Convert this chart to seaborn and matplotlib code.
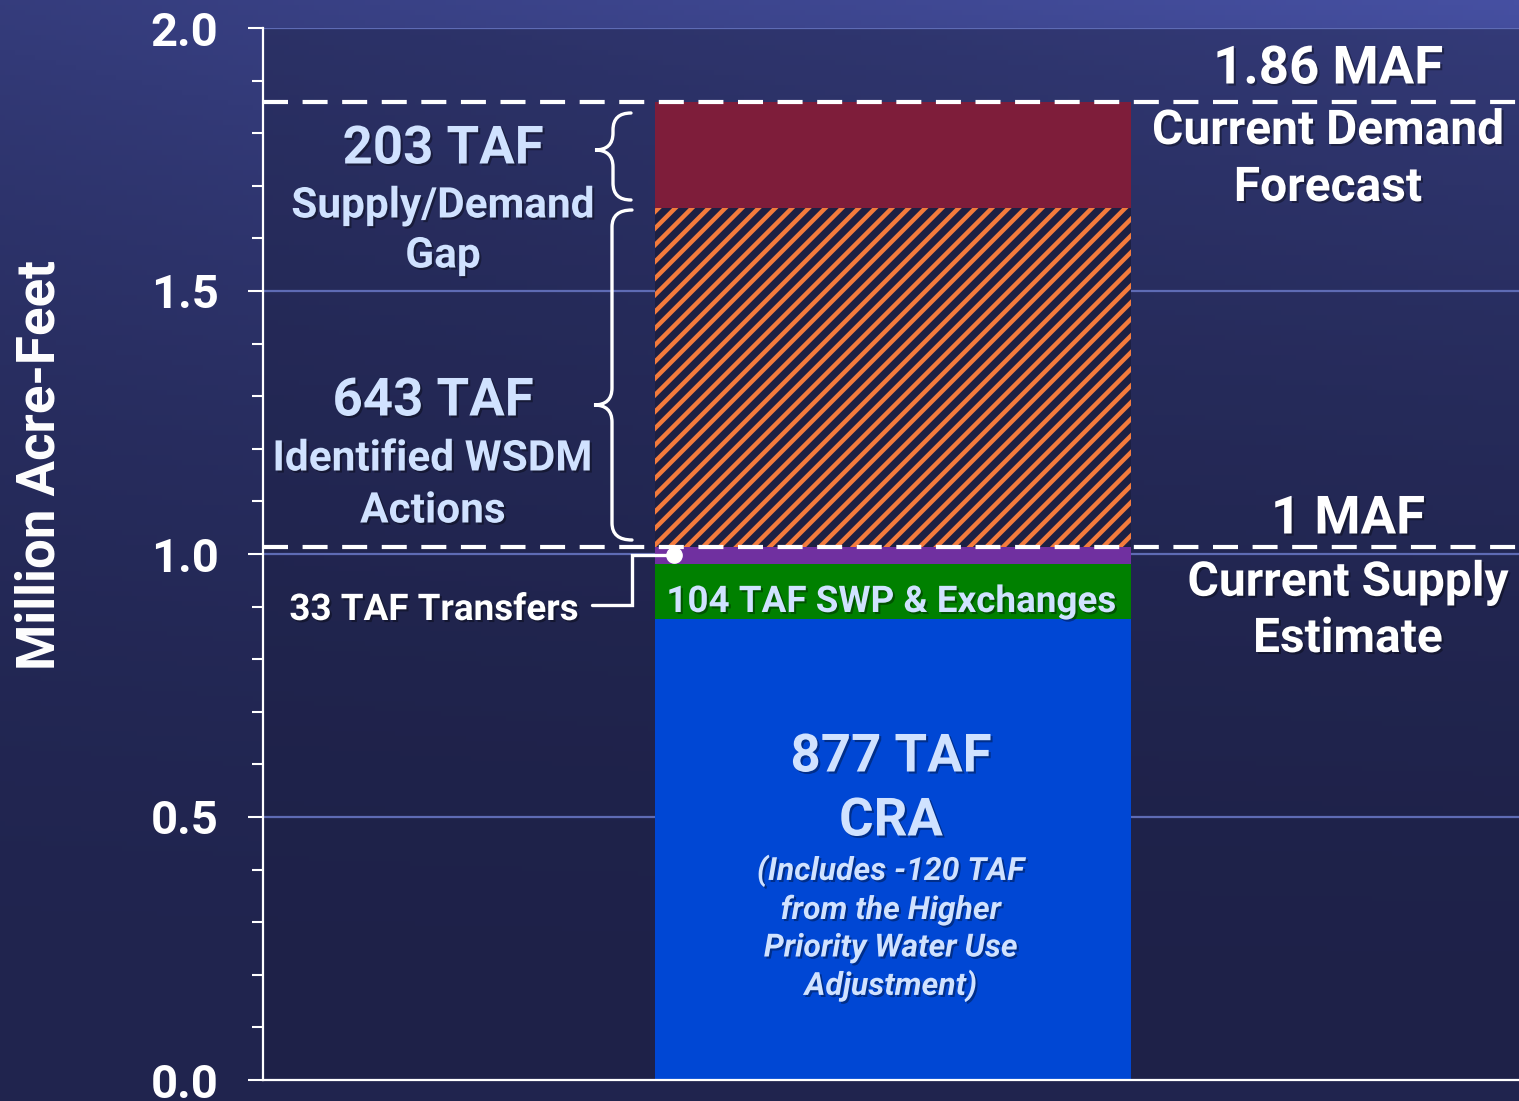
import numpy as np
import pandas as pd
import matplotlib
matplotlib.use("Agg")
import matplotlib.pyplot as plt
import seaborn as sns
from matplotlib.path import Path
from matplotlib.patches import PathPatch
import matplotlib.transforms as mtransforms
import matplotlib.patheffects as pe
from matplotlib.colors import to_rgb

# ---------------- data ----------------
segments = ["CRA", "SWP & Exchanges", "Transfers", "Identified WSDM Actions", "Supply/Demand Gap"]
values_taf = [877, 104, 33, 643, 203]
seg_colors = ["#0047d4", "#008000", "#7030a0", "#1d2043", "#7e1d3a"]
seg_hatch = [None, None, None, "//", None]
demand_maf = 1.86
supply_maf = 1.014
y_ticks = [0.0, 0.5, 1.0, 1.5, 2.0]
y_tick_labels = ["0.0", "0.5", "1.0", "1.5", "2.0"]
category = "Supply"

cum = np.cumsum(values_taf) / 1000.0
bottoms = np.concatenate([[0], cum[:-1]])

# ---------------- style ----------------
sns.set_style("ticks")
plt.rcParams["font.family"] = ["Roboto", "DejaVu Sans"]
plt.rcParams["hatch.linewidth"] = 3.2
plt.rcParams["hatch.color"] = "#f47b3c"

W, H = 1519, 1101
fig = plt.figure(figsize=(W / 100, H / 100), dpi=100)

# background gradient
bg = fig.add_axes([0, 0, 1, 1], zorder=-5)
ny, nx = 220, 300
yy, xx = np.mgrid[0:1:ny * 1j, 0:1:nx * 1j]  # yy: 0 top .. 1 bottom
top = 1 - yy
t = np.clip(top ** 2.2 * (0.55 + 0.45 * xx), 0, 1)
dark = np.array(to_rgb("#20244e"))
light = np.array(to_rgb("#4650a2"))
img = dark[None, None, :] * (1 - t[..., None]) + light[None, None, :] * t[..., None]
bg.imshow(img, aspect="auto", extent=[0, 1, 0, 1], origin="upper")
bg.set_axis_off()

# main axes
px_left, px_right, px_top, px_bot = 263, 1519, 28, 1080
ax = fig.add_axes([px_left / W, (H - px_bot) / H, (px_right - px_left) / W, (px_bot - px_top) / H])
ax.patch.set_facecolor("#1b1e40")
ax.patch.set_alpha(0.4)

# stacked bar drawn as overlapping cumulative bars (top-down)
for i in range(len(values_taf) - 1, -1, -1):
    df = pd.DataFrame({"cat": [category], "val": [cum[i]]})
    kw = dict(linewidth=0)
    if seg_hatch[i]:
        kw.update(hatch=seg_hatch[i], edgecolor="#f47b3c")
    sns.barplot(data=df, x="cat", y="val", color=seg_colors[i], saturation=1,
                width=0.8, errorbar=None, ax=ax, zorder=2, **kw)

ax.set_xlim(-1.0588, 1.0520)
ax.set_ylim(0, 2.0)
ax.set_xlabel("")
ax.set_ylabel("")
ax.set_xticks([])

# grid
ax.set_axisbelow(True)
for yv in y_ticks[1:]:
    ax.axhline(yv, color="#5e6bb4", lw=1.6, zorder=1)

# spines / ticks
for s in ["top", "right"]:
    ax.spines[s].set_visible(False)
ax.spines["left"].set_color("white")
ax.spines["left"].set_linewidth(1.6)
ax.spines["bottom"].set_color("white")
ax.spines["bottom"].set_linewidth(1.6)
ax.spines["bottom"].set_zorder(5)
ax.set_yticks(y_ticks)
ax.set_yticklabels(y_tick_labels, fontweight="bold")
ax.set_yticks(np.arange(0, 2.01, 0.1), minor=True)
ax.tick_params(axis="y", which="major", length=11, width=1.5, color="white",
               labelsize=34, labelcolor="white", pad=21)
ax.tick_params(axis="y", which="minor", length=8, width=1.5, color="white")
ax.tick_params(axis="x", which="both", length=0)

# y label
fig.text(40 / W, (H - 465) / H, "Million Acre-Feet", rotation=90, ha="center", va="center",
         fontsize=38, fontweight="bold", color="white")

# dashed reference lines
for yv in [demand_maf, supply_maf]:
    ax.axhline(yv, color="white", lw=3, dashes=(6, 3.5), zorder=6)

trans = mtransforms.blended_transform_factory(ax.transAxes, ax.transData)
shadow = [pe.SimplePatchShadow(offset=(1.5, -1.5), shadow_rgbFace="black", alpha=0.35), pe.Normal()]

def fx(px):
    return (px - px_left) / (px_right - px_left)

def py(p):
    return (px_bot - p) / (px_bot - px_top) * 2.0

LB = "#d0e2ff"

def txt(xp, yp, s, size, color=LB, ha="center", style="normal"):
    ax.text(fx(xp), py(yp), s, transform=trans, ha=ha, va="center", fontsize=size,
            fontweight="bold", color=color, style=style, zorder=8, path_effects=shadow)

# left annotations
txt(443, 149, "203 TAF", 38)
txt(443, 206, "Supply/Demand", 30.5)
txt(443, 256, "Gap", 30.5)
txt(433, 401, "643 TAF", 38)
txt(433, 459, "Identified WSDM", 30.5)
txt(433, 511, "Actions", 30.5)
txt(578, 610, "33 TAF Transfers", 26.5, color="white", ha="right")

# bar labels
txt(891, 602, "104 TAF SWP & Exchanges", 26.5)
txt(891, 757, "877 TAF", 38)
txt(891, 821, "CRA", 38)
for yp, s in zip([871, 910, 948, 986],
                 ["(Includes -120 TAF", "from the Higher", "Priority Water Use", "Adjustment)"]):
    txt(891, yp, s, 23, style="italic")

# right annotations
txt(1328, 69, "1.86 MAF", 38, color="white")
txt(1328, 131, "Current Demand", 34.5, color="white")
txt(1328, 188, "Forecast", 34.5, color="white")
txt(1348, 519, "1 MAF", 38, color="white")
txt(1348, 583, "Current Supply", 34.5, color="white")
txt(1348, 639, "Estimate", 34.5, color="white")

# braces
def brace(x_tip, x_stem, x_end, y_top, y_mid, y_bot):
    ry = 17 / ((px_bot - px_top) / 2.0)
    verts = [(x_end, y_top), (x_stem, y_top), (x_stem, y_top - ry),
             (x_stem, y_mid + ry),
             (x_stem, y_mid), (x_tip, y_mid),
             (x_stem, y_mid), (x_stem, y_mid - ry),
             (x_stem, y_bot + ry),
             (x_stem, y_bot), (x_end, y_bot)]
    codes = [Path.MOVETO, Path.CURVE3, Path.CURVE3, Path.LINETO,
             Path.CURVE3, Path.CURVE3, Path.CURVE3, Path.CURVE3,
             Path.LINETO, Path.CURVE3, Path.CURVE3]
    ax.add_patch(PathPatch(Path(verts, codes), transform=trans, fill=False,
                           edgecolor="white", lw=2.4, zorder=8, capstyle="round"))

brace(fx(595), fx(613), fx(631), py(113), py(150), py(200))
brace(fx(594), fx(612), fx(632), py(210), py(405), py(540))

# transfers connector
y_tr = bottoms[2] + values_taf[2] / 2000.0
ax.plot([fx(592), fx(632), fx(632), fx(674)], [py(605), py(605), y_tr, y_tr],
        transform=trans, color="white", lw=2.4, zorder=8, solid_joinstyle="miter")
ax.plot([fx(674)], [y_tr], "o", transform=trans, color="white", ms=11, zorder=9)

fig.savefig("out.png", dpi=100)
